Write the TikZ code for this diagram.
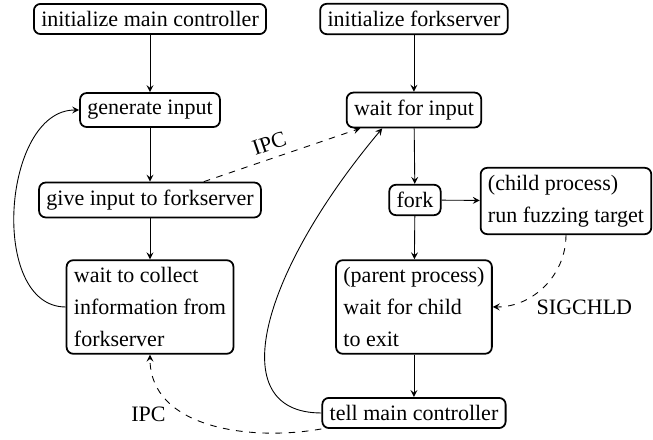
\documentclass[tikz,border=0pt]{standalone}
\usepackage{fontspec}
\setmainfont{Liberation Serif}
\usepackage{tikz}
\usetikzlibrary{arrows.meta}
\tikzset{>=Stealth}
\usetikzlibrary{positioning,arrows}
\begin{document}
\begin{tikzpicture}[proc/.style={draw,thick,rounded corners=3pt,align=left,font=\linespread{1.2}\selectfont}]
    \useasboundingbox (0,0) rectangle (10.43,-7.012);
    \node[proc] at (2.396,-0.303) (initmain) {initialize main controller};
    \node[proc] at (2.396,-1.757) (geninput) {generate input};
    \node[proc] at (2.396,-3.194) (giveinput) {give input to forkserver};
    \node[proc] at (2.396,-4.903) (collect) {wait to collect\\information from\\forkserver};
    \node[proc] at (6.612,-0.303) (initfs) {initialize forkserver};
    \node[proc] at (6.612,-1.757) (waitinput) {wait for input};
    \node[proc] at (6.628,-3.194) (fork) {fork};
    \node[proc] at (9.040,-3.210) (child) {(child process)\\run fuzzing target};
    \node[proc] at (6.612,-4.903) (parent) {(parent process)\\wait for child\\to exit};
    \node[proc] at (6.612,-6.596) (tellmain) {tell main controller};
    \path[->, >=stealth]
    (initmain) edge (geninput)
    (geninput) edge (giveinput)
    (giveinput) edge (collect)
    (collect) edge [in = 180, out = 180] (geninput)
    (initfs) edge (waitinput)
    (waitinput) edge (fork)
    (fork) edge (child)
    (fork) edge (parent)
    (parent) edge (tellmain)
    (tellmain) edge [in = -130, out = 180, out distance=1.6cm, in distance=3cm] (waitinput.-150)
    ;
    \path[->, >=stealth, dashed]
    (giveinput) edge node[above,sloped,pos=0.45] (ipcup) {IPC} (waitinput)
    (child) edge [in = 0, out = -90] node[pos=0.8,anchor=west,xshift=6pt,yshift=-2pt] (sigchld) {SIGCHLD} (parent)
    (tellmain.south west) edge [in = -90, out = 190] node[pos=0.7,left,yshift=-4pt] (ipcdown) {IPC} (collect)
    ;
\end{tikzpicture}
\end{document}
